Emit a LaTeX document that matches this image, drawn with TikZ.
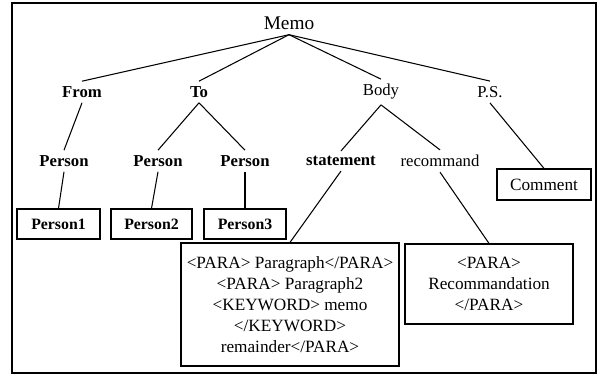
\documentclass[tikz,border=0pt]{standalone}
\usepackage{fontspec}
\setmainfont{Liberation Serif}
\usepackage{tikz}
\usetikzlibrary{shadows}

\begin{document}
\begin{tikzpicture}[
    tag/.style={inner sep=2pt, outer sep=1pt, font=\fontsize{9.5}{11}\selectfont},
    btag/.style={tag, font=\fontsize{9.5}{11}\selectfont\bfseries},
    leaf/.style={draw, line width=0.7pt, fill=white, align=center, inner sep=2pt,
        drop shadow={shadow xshift=0.7pt, shadow yshift=-0.7pt, fill=black, opacity=1},
        font=\fontsize{9.8}{12}\selectfont},
    edge/.style={line width=0.6pt}
]
    \useasboundingbox (0,0) rectangle (12,7.52);
    \draw[line width=0.8pt] (0.24,0.06) rectangle (11.92,7.46);

    \node[tag, font=\fontsize{11}{13}\selectfont] (memo) at (5.78,7.06) {Memo};

    \node[btag] (from) at (1.64,5.68) {From};
    \node[btag] (to)   at (3.98,5.68) {To};
    \node[tag]  (body) at (7.62,5.68) {Body};
    \node[tag]  (ps)   at (9.80,5.68) {P.S.};

    \node[btag] (pfrom) at (1.28,4.30) {Person};
    \node[btag] (pto)   at (3.16,4.30) {Person};
    \node[btag] (pto2)  at (4.90,4.30) {Person};
    \node[btag] (stmt)  at (6.82,4.30) {statement};
    \node[tag]  (rec)   at (8.80,4.30) {recommand};

    \node[leaf, minimum width=1.88cm, minimum height=0.62cm] (comment) at (10.88,3.83) {Comment};
    \node[leaf, font=\fontsize{9}{10.5}\selectfont\bfseries, minimum width=1.66cm, minimum height=0.60cm] (person1) at (1.17,3.04) {Person1};
    \node[leaf, font=\fontsize{9}{10.5}\selectfont\bfseries, minimum width=1.62cm, minimum height=0.60cm] (person2) at (3.03,3.04) {Person2};
    \node[leaf, font=\fontsize{9}{10.5}\selectfont\bfseries, minimum width=1.64cm, minimum height=0.60cm] (person3) at (4.90,3.04) {Person3};

    \node[leaf, minimum width=4.36cm, minimum height=2.46cm] (stmtbox) at (5.80,1.43)
        {<PARA> Paragraph</PARA>\\<PARA> Paragraph2\\<KEYWORD> memo\\</KEYWORD>\\remainder</PARA>};
    \node[leaf, minimum width=3.36cm, minimum height=1.60cm] (recbox) at (9.78,1.84)
        {<PARA>\\Recommandation\\</PARA>};

    % root
    \foreach \kid in {from,to,body,ps}
        \draw[edge] (memo.south) -- (\kid.north);

    \draw[edge] (from.south) -- (pfrom.north);
    \draw[edge] (to.south) -- (pto.north);
    \draw[edge] (to.south) -- (pto2.north);
    \draw[edge] (body.south) -- (stmt.north);
    \draw[edge] (body.south) -- (rec.north);
    \draw[edge] (ps.south) -- (comment.north);

    % leaves
    \draw[edge] (pfrom.south) -- (person1.north);
    \draw[edge] (pto.south) -- (person2.north);
    \draw[edge] (pto2.south) -- (person3.north);
    \draw[edge] (stmt.south) -- (stmtbox.north);
    \draw[edge] (rec.south) -- (recbox.north);
\end{tikzpicture}
\end{document}
